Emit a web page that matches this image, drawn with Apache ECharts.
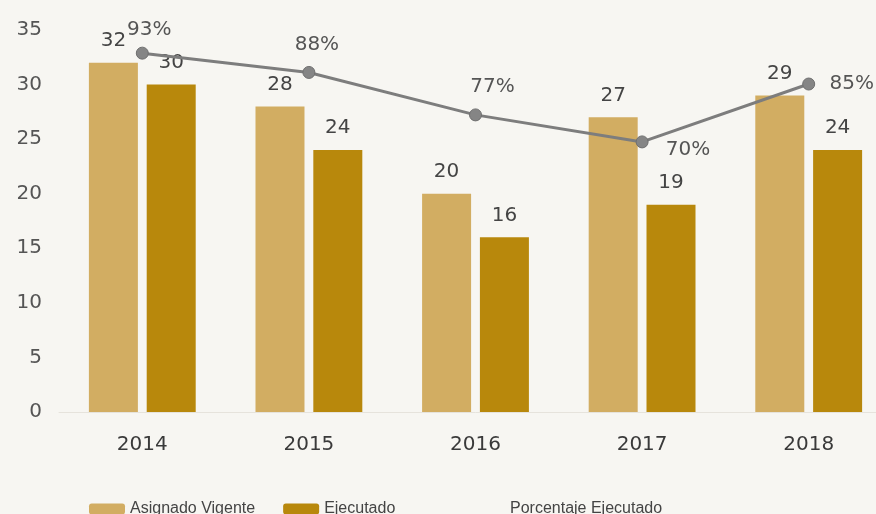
<!DOCTYPE html>
<html>
<head>
<meta charset="utf-8">
<script src="https://cdn.jsdelivr.net/npm/echarts@6/dist/echarts.min.js"></script>
<style>
html,body{margin:0;padding:0;background:#f7f6f2;overflow:hidden;width:876px;height:514px;}
#c{width:900px;height:514px;}
</style>
</head>
<body>
<div id="c"></div>
<script>
var categories = ['2014', '2015', '2016', '2017', '2018'];
var asignado = [32, 28, 20, 27, 29];
var ejecutado = [30, 24, 16, 19, 24];
var porcentaje = [93, 88, 77, 70, 85];
var yTicks = [0, 5, 10, 15, 20, 25, 30, 35];

var pctLabelOffsets = [[7, -23], [8, -28], [17, -28], [46, 8], [43, 0]];

var font = 'DejaVu Sans, Liberation Sans, Arial, sans-serif';
var legendFont = 'Liberation Sans, Arial, sans-serif';
var chart = echarts.init(document.getElementById('c'));
chart.setOption({
  backgroundColor: '#f7f6f2',
  animation: false,
  grid: { left: 59, top: 30, width: 833, height: 382, containLabel: false },
  legend: [{
    data: ['Asignado Vigente', 'Ejecutado'],
    left: 84, top: 496,
    itemWidth: 36, itemHeight: 11, itemGap: 28,
    textStyle: { fontFamily: legendFont, fontSize: 16, color: '#444' }
  }, {
    data: [{ name: 'Porcentaje Ejecutado', icon: 'rect', itemStyle: { opacity: 0 } }],
    left: 463, top: 496,
    itemWidth: 36, itemHeight: 11,
    textStyle: { fontFamily: legendFont, fontSize: 16, color: '#444' }
  }],
  xAxis: {
    type: 'category',
    data: categories,
    axisLine: { show: true, lineStyle: { color: '#e6e3dc', width: 1 } },
    axisTick: { show: false },
    axisLabel: { fontFamily: font, fontSize: 20, color: '#3a3a3a', margin: 23 }
  },
  yAxis: [{
    type: 'value', min: yTicks[0], max: yTicks[yTicks.length - 1], interval: 5,
    splitLine: { show: false },
    axisLine: { show: false }, axisTick: { show: false },
    axisLabel: { fontFamily: font, fontSize: 20, color: '#555', margin: 17 }
  }, {
    type: 'value', min: 0, max: 99, show: false, splitLine: { show: false }
  }],
  series: [{
    name: 'Asignado Vigente', type: 'bar', data: asignado,
    barWidth: 49, barGap: '18%',
    itemStyle: { color: '#d2ad62' },
    label: { show: true, position: 'top', distance: 12, fontFamily: font, fontSize: 20, color: '#444' }
  }, {
    name: 'Ejecutado', type: 'bar', data: ejecutado,
    barWidth: 49,
    itemStyle: { color: '#b8880c' },
    label: { show: true, position: 'top', distance: 12, fontFamily: font, fontSize: 20, color: '#444' }
  }, {
    name: 'Porcentaje Ejecutado', type: 'line', yAxisIndex: 1,
    data: porcentaje.map(function (v, i) {
      return { value: v, label: { offset: pctLabelOffsets[i] } };
    }),
    symbol: 'circle', symbolSize: 12,
    lineStyle: { color: '#7d7d7d', width: 3 },
    itemStyle: { color: '#858585', borderColor: '#6f6f6f', borderWidth: 1 },
    label: {
      show: true, position: 'inside', fontFamily: font, fontSize: 20, color: '#555',
      formatter: function (p) { return p.value + '%'; }
    },
    z: 5
  }]
});
</script>
</body>
</html>
